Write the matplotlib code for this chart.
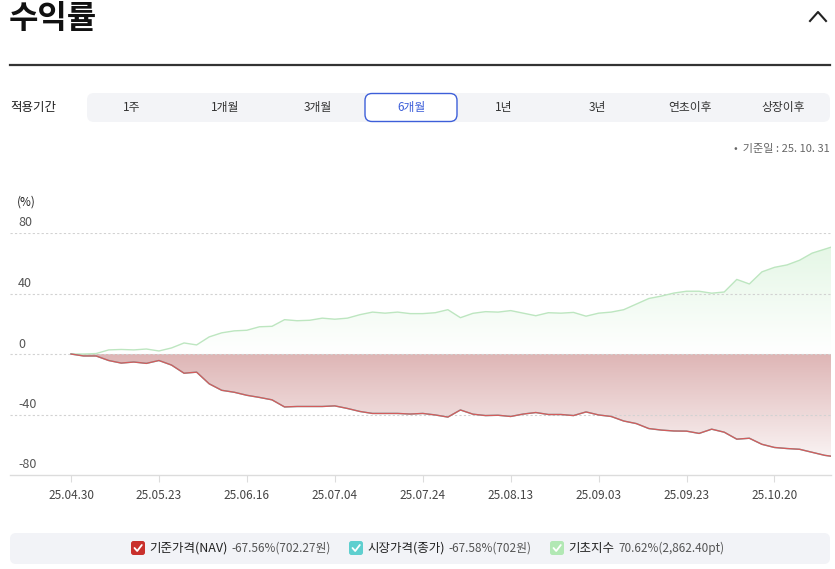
import numpy as np
import matplotlib.pyplot as plt
from matplotlib.patches import FancyBboxPatch, PathPatch
from matplotlib.lines import Line2D

plt.rcParams['font.family'] = ['Noto Sans CJK KR', 'DejaVu Sans']

# ----------------------------
# Data (trading-day index, % return)
# ----------------------------

days = list(range(0, 121, 2)) + [121]

nav = [0, -1.3, -1.3, -4.3, -6.0, -5.3, -6.2, -4.3, -7.3, -12.7,
       -12.0, -19.7, -24.0, -25.3, -27.3, -28.7, -30.3, -35.0, -34.7, -34.7,
       -34.7, -34.3, -36.0, -38.0, -39.3, -39.3, -39.3, -39.7, -39.3, -40.3,
       -41.7, -37.0, -39.8, -40.7, -40.5, -41.3, -39.7, -38.7, -40.0, -40.0,
       -40.7, -38.3, -40.3, -41.3, -44.3, -46.0, -49.3, -50.3, -50.9, -51.0,
       -52.5, -49.7, -51.7, -56.3, -55.7, -59.7, -61.8, -62.5, -63.0, -65.0,
       -67.0, -67.56]

# market close tracks NAV almost exactly (hidden under the NAV line)
market = nav[:-1] + [-67.58]

index_ret = [0, 0, 0.3, 2.7, 3.0, 2.7, 3.3, 2.0, 4.0, 7.3,
             6.0, 11.3, 14.0, 15.3, 15.7, 18.0, 18.3, 22.7, 22.0, 22.3,
             23.7, 23.0, 23.7, 26.0, 27.7, 27.0, 27.7, 26.7, 26.7, 27.3,
             29.3, 24.0, 26.9, 28.0, 27.7, 28.7, 27.0, 25.3, 27.3, 27.0,
             27.5, 25.0, 27.0, 27.7, 29.3, 33.0, 36.7, 38.3, 40.3, 41.5,
             41.5, 40.2, 41.0, 49.3, 46.3, 54.3, 57.3, 58.9, 62.0, 66.7,
             69.3, 70.62]

tick_days = [0, 14, 28, 42, 56, 70, 84, 98, 112]
tick_labels = ["25.04.30", "25.05.23", "25.06.16", "25.07.04", "25.07.24",
               "25.08.13", "25.09.03", "25.09.23", "25.10.20"]
y_ticks = [80, 40, 0, -40, -80]

tabs = ["1주", "1개월", "3개월", "6개월", "1년", "3년", "연초이후", "상장이후"]
selected_tab = 3

legend_names = ["기준가격(NAV)", "시장가격(종가)", "기초지수"]
legend_values = ["-67.56%(702.27원)", "-67.58%(702원)", "70.62%(2,862.40pt)"]
legend_colors = ["#c9302c", "#5fcfcf", "#b2e8b4"]

NAV_COLOR = "#d35c5c"
INDEX_COLOR = "#bde6c0"

# ----------------------------
# Figure + overlay (pixel coords)
# ----------------------------

W, H = 835, 569
fig = plt.figure(figsize=(W / 100, H / 100), dpi=100)

ov = fig.add_axes([0, 0, 1, 1])
ov.set_xlim(0, W)
ov.set_ylim(H, 0)
ov.axis('off')
ov.set_zorder(0)

ov.text(9, 19, "수익률", fontsize=23, fontweight='bold', color='#111',
        va='center', ha='left')
ov.add_line(Line2D([810, 818, 826], [21, 12, 21], color='#222', lw=1.5))
ov.add_line(Line2D([10, 830], [65, 65], color='#333', lw=1.6))

ov.text(10, 107, "적용기간", fontsize=9, color='#222', va='center')
ov.add_patch(FancyBboxPatch((87, 93), 743, 29,
                            boxstyle='round,pad=0,rounding_size=7',
                            facecolor='#f3f4f7', edgecolor='none'))
for i, t in enumerate(tabs):
    cx = 132 + 93 * i
    if i == selected_tab:
        ov.add_patch(FancyBboxPatch((cx - 46, 93.5), 92, 28,
                                    boxstyle='round,pad=0,rounding_size=7',
                                    facecolor='white', edgecolor='#3d5fd9', lw=1))
        ov.text(cx, 107.5, t, fontsize=8.5, color='#3d5fd9', ha='center', va='center')
    else:
        ov.text(cx, 107.5, t, fontsize=8.5, color='#333', ha='center', va='center')

ov.text(830, 149, "•  기준일 : 25. 10. 31", fontsize=8, color='#666',
        ha='right', va='center')
ov.text(17, 202, "(%)", fontsize=8.5, color='#222', va='center')

# legend bar
ov.add_patch(FancyBboxPatch((10, 533), 820, 31,
                            boxstyle='round,pad=0,rounding_size=6',
                            facecolor='#f2f3f7', edgecolor='none'))
box_x = [138, 356, 557]
for bx, name, val, col in zip(box_x, legend_names, legend_values, legend_colors):
    ov.add_patch(FancyBboxPatch((bx - 7, 541), 14, 14,
                                boxstyle='round,pad=0,rounding_size=2.5',
                                facecolor=col, edgecolor='none'))
    ov.add_line(Line2D([bx - 3.5, bx - 0.8, bx + 3.8], [548, 551, 545],
                       color='white', lw=1.3, solid_capstyle='round'))
    t1 = ov.text(bx + 11, 548.5, name, fontsize=9, color='#222', va='center')
    ov.annotate(val, xy=(1, 0.5), xycoords=t1, xytext=(3, 0),
                textcoords='offset points', fontsize=8.5, color='#555', va='center')

# ----------------------------
# Chart
# ----------------------------

ax = fig.add_axes([10 / W, 1 - 475 / H, 821 / W, (475 - 233) / H])
ax.set_facecolor('none')
ax.set_zorder(1)


def gradient_fill(ax, x, y, top_rgb, bottom_rgb):
    x = np.asarray(x, dtype=float)
    y = np.asarray(y, dtype=float)
    coll = ax.fill_between(x, y, 0, facecolor='none', edgecolor='none')
    path = coll.get_paths()[0]
    lo, hi = min(y.min(), 0), max(y.max(), 0)
    t = np.linspace(0, 1, 256)[:, None]
    rgb = (np.array(bottom_rgb) * (1 - t) + np.array(top_rgb) * t) / 255
    img = ax.imshow(rgb[:, None, :], extent=[x[0], x[-1], lo, hi],
                    origin='lower', aspect='auto', zorder=1)
    patch = PathPatch(path, transform=ax.transData, facecolor='none', edgecolor='none')
    ax.add_patch(patch)
    img.set_clip_path(patch)


gradient_fill(ax, days, index_ret, (229, 247, 230), (255, 255, 255))
gradient_fill(ax, days, nav, (222, 181, 181), (249, 242, 242))

for v in y_ticks[:-1]:
    ax.axhline(v, color='#d2d2d2', lw=0.8, dashes=(2, 2), zorder=3)
    ax.annotate(str(v), xy=(0, v), xycoords=('axes fraction', 'data'),
                xytext=(8, 10), textcoords='offset pixels', fontsize=9,
                color='#555', va='center', ha='left')
ax.annotate(str(y_ticks[-1]), xy=(0, y_ticks[-1]), xycoords=('axes fraction', 'data'),
            xytext=(8, 11), textcoords='offset pixels', fontsize=9,
            color='#555', va='center', ha='left')

ax.plot(days, index_ret, color=INDEX_COLOR, lw=1.0, zorder=4)
ax.plot(days, market, color=legend_colors[1], lw=1.0, zorder=4)
ax.plot(days, nav, color=NAV_COLOR, lw=1.0, zorder=5)

ax.set_xlim(-61 / 6.281, 121)
ax.set_ylim(-80, 80)

for s in ['top', 'right', 'left']:
    ax.spines[s].set_visible(False)
ax.spines['bottom'].set_color('#dcdcdc')
ax.spines['bottom'].set_linewidth(1)

ax.set_yticks([])
ax.set_xticks(tick_days, tick_labels)
ax.tick_params(axis='x', length=5, color='#dcdcdc', labelsize=8.5,
               labelcolor='#444', pad=5)

fig.savefig("out.png", dpi=100)
